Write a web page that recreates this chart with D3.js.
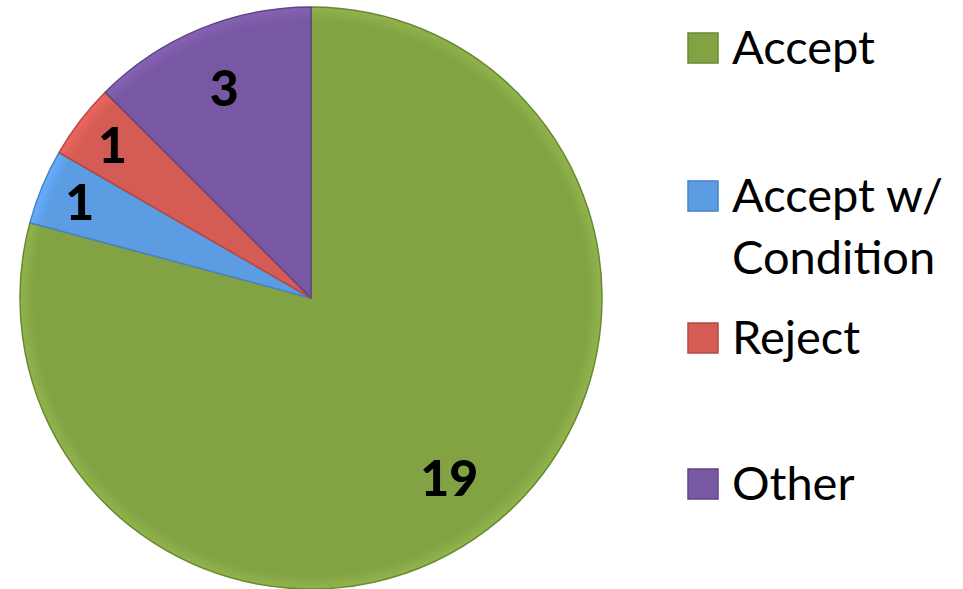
<!DOCTYPE html>
<html>
<head>
<meta charset="utf-8">
<script src="https://cdn.jsdelivr.net/npm/d3@7"></script>
<style>
  body { margin: 0; background: #fff; }
  svg { display: block; font-family: Lato, "Noto Sans", sans-serif; }
</style>
</head>
<body>
<div id="chart"></div>
<script>
// data
var categories = ["Accept", "Accept w/ Condition", "Reject", "Other"];
var counts = [19, 1, 1, 3];
var legendLines = [["Accept"], ["Accept w/", "Condition"], ["Reject"], ["Other"]];
var colors = ["#82a244", "#5b9ce3", "#d55c54", "#7858a2"];
var strokes = ["#6a8833", "#4683c6", "#b44843", "#5e4487"];

var width = 963, height = 589;
var cx = 311, cy = 298, radius = 291;

var svg = d3.select("#chart")
  .append("svg")
    .attr("width", width)
    .attr("height", height);

// soft bevel look at the rim
var defs = svg.append("defs");
colors.forEach(function(c, i) {
  var g = defs.append("radialGradient")
      .attr("id", "grad" + i)
      .attr("gradientUnits", "userSpaceOnUse")
      .attr("cx", 0).attr("cy", 0).attr("r", radius);
  g.append("stop").attr("offset", "0%").attr("stop-color", c);
  g.append("stop").attr("offset", "95%").attr("stop-color", c);
  g.append("stop").attr("offset", "100%").attr("stop-color", d3.color(c).brighter(0.3));
});

var pie = d3.pie().sort(null).value(function(d) { return d; });
var arc = d3.arc().innerRadius(0).outerRadius(radius);
var arcs = pie(counts);

var g = svg.append("g")
    .attr("transform", "translate(" + cx + "," + cy + ")");

g.selectAll("path")
  .data(arcs)
  .enter().append("path")
    .attr("d", arc)
    .attr("fill", function(d, i) { return "url(#grad" + i + ")"; })
    .attr("stroke", function(d, i) { return strokes[i]; })
    .attr("stroke-width", 1.5)
    .attr("stroke-linejoin", "round");

// labels: big slices a bit further in than the thin ones
g.selectAll("text")
  .data(arcs)
  .enter().append("text")
    .attr("transform", function(d) {
      var k = (d.endAngle - d.startAngle) < 0.5 ? 0.86 : 0.78;
      var a = (d.startAngle + d.endAngle) / 2;
      return "translate(" + (Math.sin(a) * radius * k) + "," + (-Math.cos(a) * radius * k) + ")";
    })
    .attr("text-anchor", "middle")
    .attr("dy", "0.35em")
    .attr("font-size", 50)
    .attr("font-weight", 900)
    .attr("fill", "#000")
    .text(function(d) { return d.data; });

// legend
var legendY = [48, 196, 338, 484];
var legend = svg.append("g").attr("transform", "translate(688,0)");
var item = legend.selectAll("g")
  .data(categories)
  .enter().append("g")
    .attr("transform", function(d, i) { return "translate(0," + legendY[i] + ")"; });

item.append("rect")
    .attr("x", 0).attr("y", -15)
    .attr("width", 30).attr("height", 30)
    .attr("fill", function(d, i) { return colors[i]; })
    .attr("stroke", function(d, i) { return strokes[i]; })
    .attr("stroke-width", 1.5);

item.append("text")
    .attr("x", 44)
    .attr("y", 0)
    .attr("font-size", 47)
    .attr("fill", "#000")
    .selectAll("tspan")
    .data(function(d, i) { return legendLines[i]; })
    .enter().append("tspan")
      .attr("x", 44)
      .attr("dy", function(d, j) { return j === 0 ? "0.35em" : "1.32em"; })
      .text(function(d) { return d; });
</script>
</body>
</html>
